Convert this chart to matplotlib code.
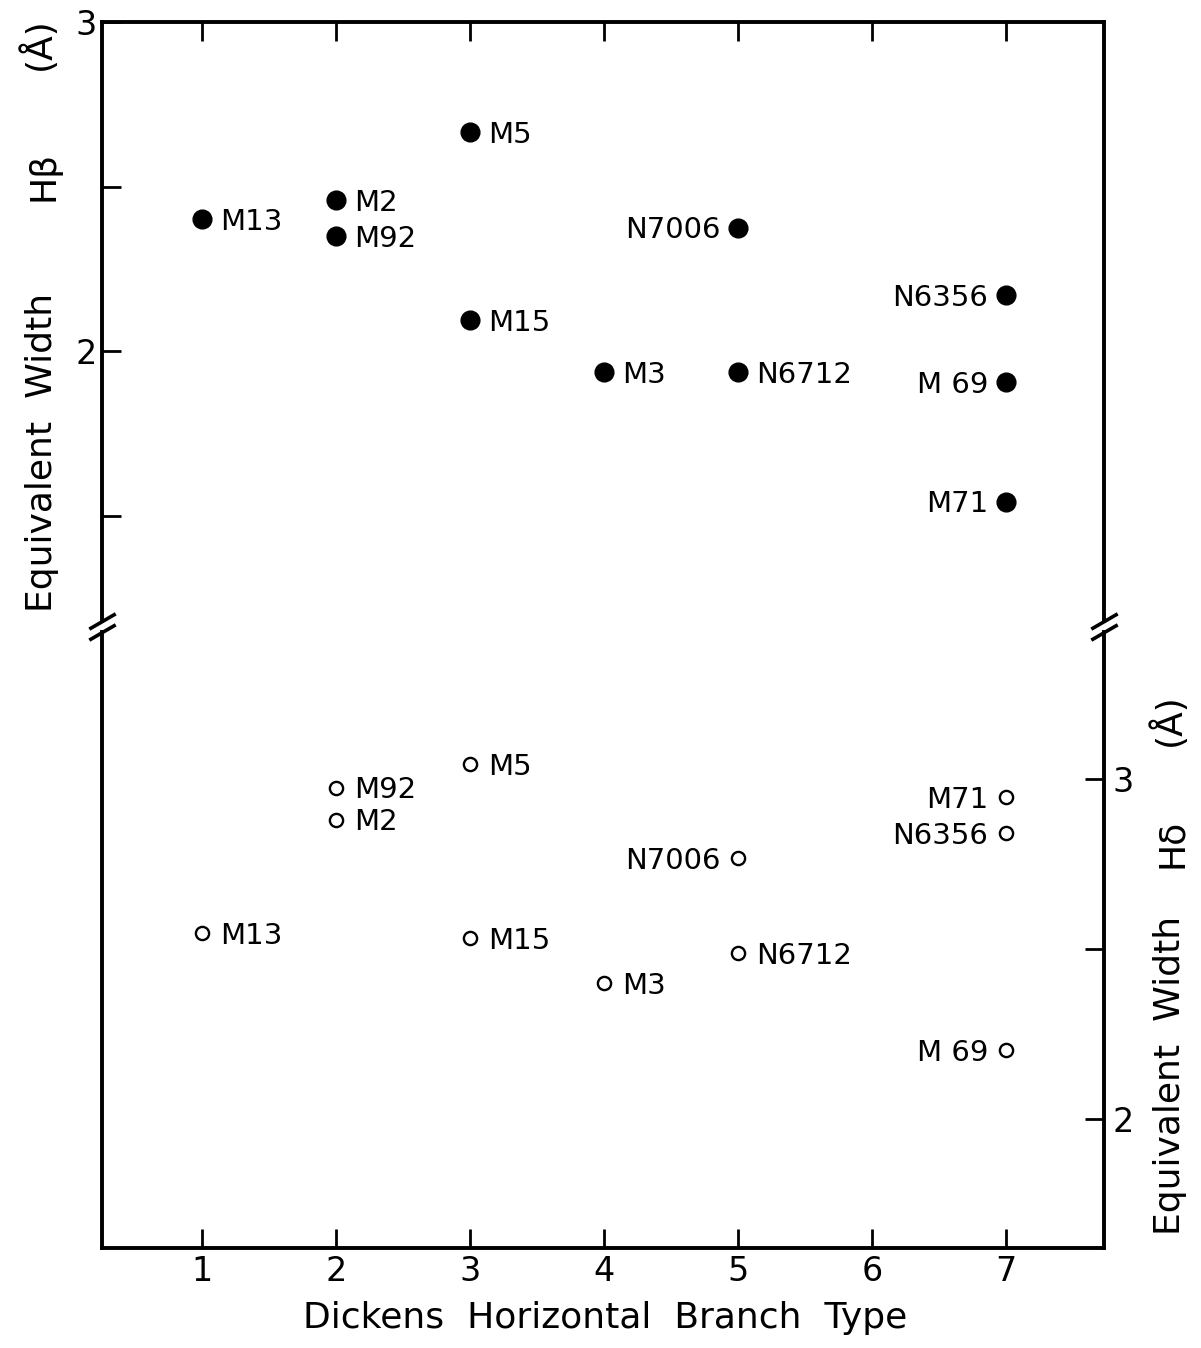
import matplotlib.pyplot as plt
from matplotlib.ticker import FixedLocator, FixedFormatter

# Dickens horizontal-branch type and Balmer-line equivalent widths (Angstrom)
clusters = ["M13", "M2", "M92", "M5", "M15", "N7006", "M3", "N6712", "N6356", "M 69", "M71"]
hb_type = [1, 2, 2, 3, 3, 5, 4, 5, 7, 7, 7]
hbeta = [2.40, 2.46, 2.35, 2.665, 2.095, 2.375, 1.936, 1.936, 2.17, 1.905, 1.543]
hdelta = [2.547, 2.88, 2.974, 3.044, 2.532, 2.768, 2.40, 2.488, 2.84, 2.203, 2.947]
# which side of the point the cluster name goes on
label_side = ["r", "r", "r", "r", "r", "l", "r", "r", "l", "l", "l"]

x_ticks = [1, 2, 3, 4, 5, 6, 7]
hbeta_ticks = [1.5, 2.0, 2.5, 3.0]
hbeta_ticklabels = ["", "2", "", "3"]
hdelta_ticks = [2.0, 2.5, 3.0]
hdelta_ticklabels = ["2", "", "3"]

plt.rcParams["font.family"] = "DejaVu Sans"

W_PX, H_PX = 1201, 1348
fig = plt.figure(figsize=(W_PX / 100, H_PX / 100), dpi=100)


def frac_x(px):
    return px / W_PX


def frac_y(py):
    return 1 - py / H_PX


left, right = 102, 1104
top_y0, top_y1 = 22, 621      # upper panel (H-beta)
bot_y0, bot_y1 = 632, 1248    # lower panel (H-delta)

ax_top = fig.add_axes([frac_x(left), frac_y(top_y1), (right - left) / W_PX, (top_y1 - top_y0) / H_PX])
ax_bot = fig.add_axes([frac_x(left), frac_y(bot_y1), (right - left) / W_PX, (bot_y1 - bot_y0) / H_PX])

spine_lw = 2.8
for ax in (ax_top, ax_bot):
    ax.set_xlim(0.25, 7.73)
    for s in ax.spines.values():
        s.set_linewidth(spine_lw)
    ax.patch.set_visible(False)

ax_top.set_ylim(1.18, 3.0)
ax_bot.set_ylim(1.62, 3.432)
ax_top.spines["bottom"].set_visible(False)
ax_bot.spines["top"].set_visible(False)

tick_kw = dict(direction="in", length=14, width=2.0, colors="black")

# upper panel: x ticks along the top, H-beta scale on the left
ax_top.xaxis.set_major_locator(FixedLocator(x_ticks))
ax_top.tick_params(axis="x", bottom=False, top=True, labelbottom=False, labeltop=False, **tick_kw)
ax_top.yaxis.set_major_locator(FixedLocator(hbeta_ticks))
ax_top.yaxis.set_major_formatter(FixedFormatter(hbeta_ticklabels))
ax_top.tick_params(axis="y", left=True, right=False, labelsize=24, pad=4, **tick_kw)

# lower panel: x ticks along the bottom, H-delta scale on the right
ax_bot.xaxis.set_major_locator(FixedLocator(x_ticks))
ax_bot.tick_params(axis="x", bottom=True, top=False, labelsize=24, pad=5, **tick_kw)
ax_bot.yaxis.set_major_locator(FixedLocator(hdelta_ticks))
ax_bot.yaxis.set_major_formatter(FixedFormatter(hdelta_ticklabels))
ax_bot.tick_params(axis="y", left=False, right=True, labelleft=False, labelright=True,
                   labelsize=24, pad=6, **tick_kw)

# points and cluster names
ax_top.plot(hb_type, hbeta, "o", color="black", markersize=13.5, linestyle="none")
ax_bot.plot(hb_type, hdelta, "o", markerfacecolor="white", markeredgecolor="black",
            markersize=9.5, markeredgewidth=1.7, linestyle="none")

for name, x, yb, yd, side in zip(clusters, hb_type, hbeta, hdelta, label_side):
    dx = 13 if side == "r" else -13
    ha = "left" if side == "r" else "right"
    for ax, y in ((ax_top, yb), (ax_bot, yd)):
        ax.annotate(name, (x, y), xytext=(dx, -2), textcoords="offset points",
                    ha=ha, va="center", fontsize=21)

# axis-break slashes where the two panels meet
slash = [(-1, -0.58), (1, 0.58)]
for ax, yy in ((ax_top, 0), (ax_bot, 1)):
    for xx in (0, 1):
        ax.plot([xx], [yy], marker=slash, markersize=19, markeredgewidth=2.6,
                color="black", transform=ax.transAxes, clip_on=False, linestyle="none")

# axis titles
lab_fs = 26
fig.text(frac_x(605), frac_y(1318), "Dickens  Horizontal  Branch  Type",
         ha="center", va="center", fontsize=lab_fs)

fig.text(frac_x(42), frac_y(452), "Equivalent  Width", rotation=90,
         ha="center", va="center", fontsize=lab_fs)
fig.text(frac_x(44), frac_y(176), "Hβ", rotation=90, ha="center", va="center", fontsize=lab_fs)
fig.text(frac_x(38), frac_y(44), "(Å)", rotation=90, ha="center", va="center", fontsize=lab_fs)

fig.text(frac_x(1170), frac_y(1075), "Equivalent  Width", rotation=90,
         ha="center", va="center", fontsize=lab_fs)
fig.text(frac_x(1172), frac_y(843), "Hδ", rotation=90, ha="center", va="center", fontsize=lab_fs)
fig.text(frac_x(1168), frac_y(720), "(Å)", rotation=90, ha="center", va="center", fontsize=lab_fs)

fig.savefig("out.png", dpi=100)
